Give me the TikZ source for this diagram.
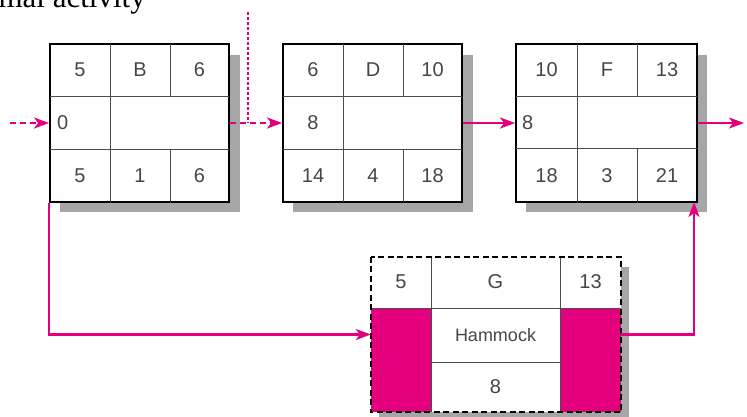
\documentclass[tikz,border=0pt]{standalone}
\usepackage{fontspec}
\setmainfont{Liberation Sans}
\newfontfamily\capfont{Liberation Serif}
\usetikzlibrary{arrows.meta}
\definecolor{hampink}{RGB}{228,0,124}
\definecolor{numgray}{RGB}{70,70,70}
\tikzset{
  act/.style={shape=rectangle, draw=black, line width=1.8pt, inner sep=0pt, minimum height=158pt},
  shadowbox/.style={fill=black!35, draw=none},
  cell/.style={line width=1pt, draw=black!70},
  num/.style={font=\fontsize{20}{24}\selectfont, text=numgray, inner sep=0pt},
  link/.style={line width=2.2pt, draw=hampink, -{Stealth[length=15pt,width=11pt,inset=4pt]}},
}
\begin{document}
\begin{tikzpicture}[x=1pt, y=-1pt]
\clip (0,0) rectangle (747,417);
\fill[white] (0,0) rectangle (747,417);
% clipped caption at the top
\node[font=\capfont\fontsize{31}{33}\selectfont, anchor=base east, inner sep=0pt] (cap) at (146,8) {mal activity};
% shadows
\path[shadowbox] (60,55) rectangle (240,212);
\path[shadowbox] (293,55) rectangle (473,212);
\path[shadowbox] (526,55) rectangle (707,212);
\path[shadowbox] (379,267) rectangle (629,417);
% activity boxes
\node[act, fill=white, minimum width=179pt] (B) at (139.5,123) {};
\node[act, fill=white, minimum width=179pt] (D) at (372.5,123) {};
\node[act, fill=white, minimum width=181pt] (F) at (606.5,123) {};
% box B cells
\draw[cell] (50,97) -- (229,97); \draw[cell] (50,150) -- (229,150);
\draw[cell] (110,44) -- (110,202); \draw[cell] (170,44) -- (170,97); \draw[cell] (170,150) -- (170,202);
\node[num] (B1) at (80,70) {5}; \node[num] (B2) at (140,70) {B}; \node[num] (B3) at (199.5,70) {6};
\node[num, anchor=west] (B4) at (57,123) {0};
\node[num] (B5) at (80,176) {5}; \node[num] (B6) at (140,176) {1}; \node[num] (B7) at (199.5,176) {6};
% box D cells
\draw[cell] (283,97) -- (462,97); \draw[cell] (283,150) -- (462,150);
\draw[cell] (343,44) -- (343,202); \draw[cell] (403,44) -- (403,97); \draw[cell] (403,150) -- (403,202);
\node[num] (D1) at (313,70) {6}; \node[num] (D2) at (373,70) {D}; \node[num] (D3) at (432.5,70) {10};
\node[num] (D4) at (313,123) {8};
\node[num] (D5) at (313,176) {14}; \node[num] (D6) at (373,176) {4}; \node[num] (D7) at (432.5,176) {18};
% box F cells
\draw[cell] (516,97) -- (697,97); \draw[cell] (516,149) -- (697,149);
\draw[cell] (577,44) -- (577,202); \draw[cell] (637,44) -- (637,97); \draw[cell] (637,149) -- (637,202);
\node[num] (F1) at (546.5,70) {10}; \node[num] (F2) at (607,70) {F}; \node[num] (F3) at (667,70) {13};
\node[num, anchor=west] (F4) at (522,123) {8};
\node[num] (F5) at (546.5,176) {18}; \node[num] (F6) at (607,176) {3}; \node[num] (F7) at (667,176) {21};
% hammock G
\node[shape=rectangle, inner sep=0pt, minimum width=250pt, minimum height=155pt, fill=white] (G) at (496,334.5) {};
\fill[hampink] (371,308) rectangle (431,412);
\fill[hampink] (560,308) rectangle (621,412);
\draw[cell] (371,308) -- (621,308); \draw[cell] (431,362) -- (560,362);
\draw[cell] (431,257) -- (431,412); \draw[cell] (560,257) -- (560,412);
\draw[line width=1.8pt, dashed, dash pattern=on 6pt off 3.5pt] (G.north west) rectangle (G.south east);
\node[num] (G1) at (401,282) {5}; \node[num] (G2) at (495.5,282) {G}; \node[num] (G3) at (590.5,282) {13};
\node[num, font=\fontsize{18}{22}\selectfont] (G4) at (495.5,335) {Hammock};
\node[num] (G5) at (495.5,387) {8};
% connectors
\coordinate (start) at (10,123);
\coordinate (finish) at (744,123);
\coordinate (mtop) at (248,12);
\coordinate (mjoin) at (248,123);
\coordinate (Fin) at (694,202);
\draw[link, dashed, dash pattern=on 6pt off 4pt] (start) -- (B.west);
\draw[link, dashed, dash pattern=on 6pt off 4pt] (B.east) -- (D.west);
\draw[line width=2.2pt, draw=hampink, dash pattern=on 3pt off 2pt] (mtop) -- (mjoin);
\draw[link] (D.east) -- (F.west);
\draw[link] (F.east) -- (finish);
\draw[link] (B.south west) |- (G.west);
\draw[link] (G.east) -| (Fin);
\end{tikzpicture}
\end{document}
